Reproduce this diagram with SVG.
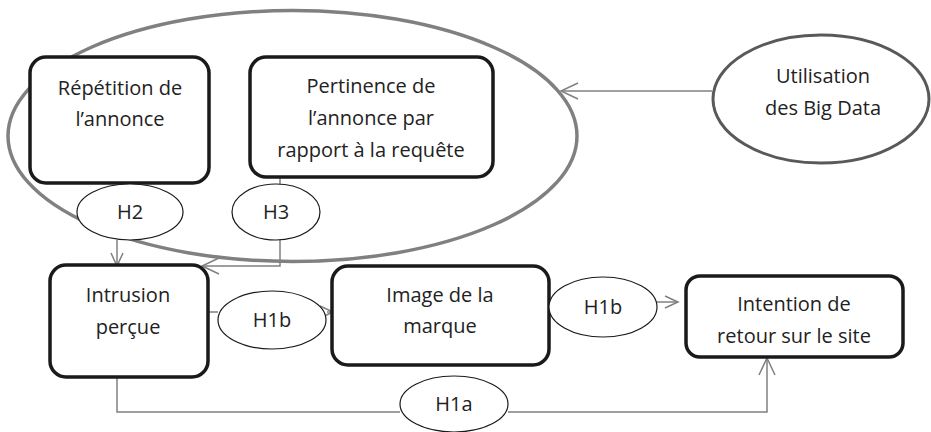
<svg xmlns="http://www.w3.org/2000/svg" width="931" height="432" viewBox="0 0 931 432">
<defs>
<marker id="arr" markerUnits="userSpaceOnUse" markerWidth="16" markerHeight="16" viewBox="0 0 16 16" refX="14" refY="8" orient="auto">
<path d="M1,2 L14,8 L1,14" fill="none" stroke="#808080" stroke-width="1.5"/>
</marker>
<marker id="arrL" markerUnits="userSpaceOnUse" markerWidth="20" markerHeight="20" viewBox="0 0 20 20" refX="18" refY="10" orient="auto">
<path d="M1,2 L18,10 L1,18" fill="none" stroke="#808080" stroke-width="1.5"/>
</marker>
</defs>
<style>
text{font-family:"Open Sans","Liberation Sans",Arial,sans-serif;font-size:20px;fill:#222;text-anchor:middle}
.box{fill:#fff;stroke:#1a1a1a;stroke-width:3.5}
.h{fill:#fff;stroke:#1a1a1a;stroke-width:1.2}
.c{fill:none;stroke:#808080;stroke-width:1.5}
</style>
<g id="group-ellipse">
<ellipse cx="292.5" cy="136" rx="284.5" ry="125.5" fill="none" stroke="#808080" stroke-width="3.5"/>
</g>
<g id="connectors">
<line class="c" x1="712" y1="91" x2="561" y2="91" marker-end="url(#arrL)"/>
<line class="c" x1="117" y1="240" x2="117" y2="266" marker-end="url(#arr)"/>
<polyline class="c" points="280,177 280,185"/>
<polyline class="c" points="280,240 280,266 202,266" marker-end="url(#arrL)"/>
<line class="c" x1="208" y1="312" x2="218" y2="312"/>
<line class="c" x1="327" y1="312" x2="333" y2="312" marker-end="url(#arr)"/>
<line class="c" x1="657" y1="302" x2="678" y2="302" marker-end="url(#arr)"/>
<polyline class="c" points="117,377 117,412 400,412"/>
<polyline class="c" points="508,412 767,412 767,358" marker-end="url(#arrL)"/>
</g>
<g id="node-repetition">
<rect class="box" x="30" y="57" width="179" height="126" rx="16"/>
<text x="120" y="95">Répétition de</text>
<text x="120" y="126">l’annonce</text>
</g>
<g id="node-pertinence">
<rect class="box" x="250" y="57" width="243" height="120" rx="16"/>
<text x="371" y="93">Pertinence de</text>
<text x="371" y="125">l’annonce par</text>
<text x="371" y="157">rapport à la requête</text>
</g>
<g id="node-bigdata">
<ellipse cx="821" cy="99" rx="108" ry="64" fill="#fff" stroke="#595959" stroke-width="3"/>
<text x="823" y="83">Utilisation</text>
<text x="823" y="115">des Big Data</text>
</g>
<g id="node-h2">
<ellipse class="h" cx="130" cy="212" rx="53" ry="28"/>
<text x="130" y="219">H2</text>
</g>
<g id="node-h3">
<ellipse class="h" cx="276" cy="212" rx="44" ry="28"/>
<text x="276" y="219">H3</text>
</g>
<g id="node-intrusion">
<rect class="box" x="50" y="265" width="158" height="112" rx="16"/>
<text x="128" y="302">Intrusion</text>
<text x="128" y="334">perçue</text>
</g>
<g id="node-h1b-1">
<ellipse class="h" cx="272" cy="320" rx="54" ry="29"/>
<text x="272" y="327">H1b</text>
</g>
<g id="node-image">
<rect class="box" x="332" y="266" width="217" height="99" rx="16"/>
<text x="440" y="302">Image de la</text>
<text x="440" y="333">marque</text>
</g>
<g id="node-h1b-2">
<ellipse class="h" cx="603" cy="307" rx="54" ry="30"/>
<text x="603" y="314">H1b</text>
</g>
<g id="node-intention">
<rect class="box" x="686" y="276" width="217" height="81" rx="14"/>
<text x="794" y="311">Intention de</text>
<text x="794" y="343">retour sur le site</text>
</g>
<g id="node-h1a">
<ellipse class="h" cx="454" cy="404" rx="54" ry="28"/>
<text x="454" y="411">H1a</text>
</g>
</svg>
